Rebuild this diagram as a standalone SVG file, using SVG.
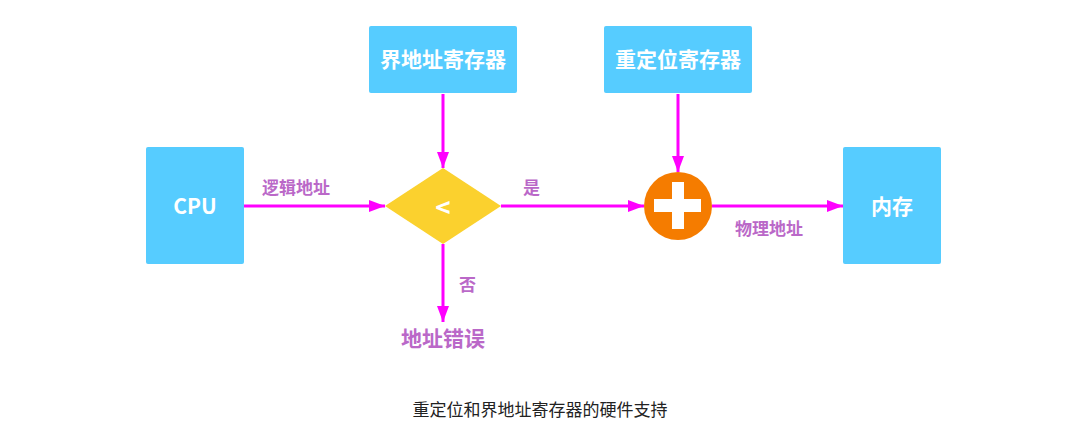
<svg xmlns="http://www.w3.org/2000/svg" width="1078" height="447" viewBox="0 0 1078 447">
<style>
.box{fill:#56CCFF;}
.bt{fill:#fff;font-family:"Noto Sans CJK SC","Noto Sans",sans-serif;font-weight:bold;font-size:21px;text-anchor:middle;}
.lbl{fill:#BA68C8;font-family:"Noto Sans CJK SC",sans-serif;font-weight:bold;font-size:17px;}
.edge{stroke:#FF00FF;stroke-width:3;fill:none;marker-end:url(#ah);}
</style>
<defs>
<marker id="ah" markerWidth="16" markerHeight="12" refX="16" refY="6" orient="auto" markerUnits="userSpaceOnUse">
<path d="M0,0 L16,6 L0,12 Z" fill="#FF00FF"/>
</marker>
</defs>
<rect width="1078" height="447" fill="#fff"/>
<g id="connectors">
<path class="edge" d="M244,206 L385,206"/>
<path class="edge" d="M443,94 L443,168"/>
<path class="edge" d="M678,94 L678,172"/>
<path class="edge" d="M501,206 L644,206"/>
<path class="edge" d="M712,206 L843,206"/>
<path class="edge" d="M443,244 L443,322"/>
<text class="lbl" x="262" y="194">逻辑地址</text>
<text class="lbl" x="523" y="194">是</text>
<text class="lbl" x="459" y="291">否</text>
<text class="lbl" x="735" y="235">物理地址</text>
</g>
<g id="cpu">
<rect class="box" x="146" y="147" width="98" height="117" rx="2"/>
<text class="bt" x="195" y="214">CPU</text>
</g>
<g id="bound">
<rect class="box" x="369" y="26" width="148" height="67" rx="2"/>
<text class="bt" x="443" y="67">界地址寄存器</text>
</g>
<g id="reloc">
<rect class="box" x="604" y="26" width="148" height="67" rx="2"/>
<text class="bt" x="678" y="67">重定位寄存器</text>
</g>
<g id="compare">
<polygon points="385,206 443,168 501,206 443,244" fill="#FBD12E"/>
<text class="bt" x="443" y="217" style="font-size:26px">&lt;</text>
</g>
<g id="adder">
<circle cx="678" cy="206" r="34" fill="#F57C00"/>
<rect x="654" y="199" width="47" height="13" fill="#fff"/>
<rect x="672" y="182" width="12" height="47" fill="#fff"/>
</g>
<g id="memory">
<rect class="box" x="843" y="147" width="98" height="117" rx="2"/>
<text class="bt" x="892" y="214">内存</text>
</g>
<g id="error">
<text class="lbl" x="443" y="346" style="font-size:21px;text-anchor:middle">地址错误</text>
</g>
<text x="540" y="416" font-family="Noto Sans CJK SC,sans-serif" font-size="17" fill="#222" text-anchor="middle">重定位和界地址寄存器的硬件支持</text>
</svg>
